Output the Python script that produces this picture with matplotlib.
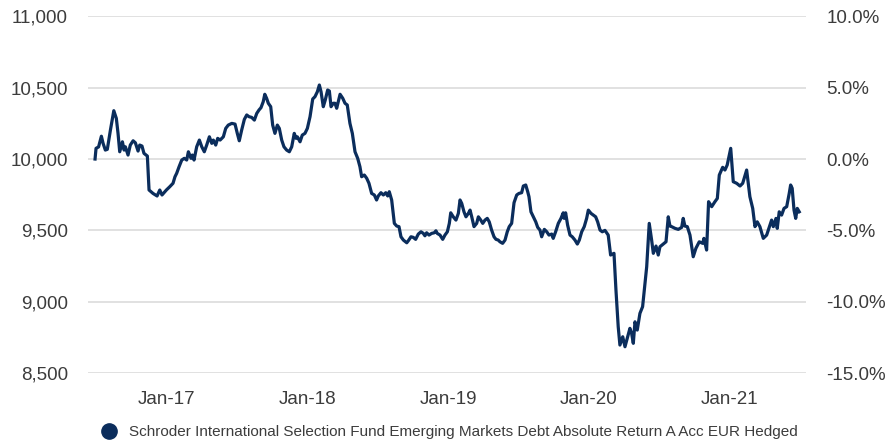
import matplotlib
matplotlib.use("Agg")
import matplotlib.pyplot as plt
from matplotlib.lines import Line2D
from matplotlib.ticker import FuncFormatter

# Decimal-year dates and fund values (growth of 10,000)
years = [
    2016.496, 2016.503, 2016.521, 2016.541, 2016.553, 2016.569, 2016.583, 2016.605, 2016.629, 2016.647,
    2016.659, 2016.671, 2016.690, 2016.702, 2016.711, 2016.730, 2016.746, 2016.766, 2016.782, 2016.801,
    2016.813, 2016.829, 2016.843, 2016.867, 2016.879, 2016.907, 2016.936, 2016.955, 2016.971, 2017.002,
    2017.026, 2017.049, 2017.063, 2017.075, 2017.092, 2017.111, 2017.129, 2017.146, 2017.158, 2017.177,
    2017.186, 2017.198, 2017.217, 2017.236, 2017.253, 2017.271, 2017.288, 2017.307, 2017.324, 2017.335,
    2017.352, 2017.366, 2017.383, 2017.406, 2017.423, 2017.441, 2017.466, 2017.489, 2017.505, 2017.519,
    2017.536, 2017.555, 2017.572, 2017.588, 2017.607, 2017.626, 2017.643, 2017.659, 2017.673, 2017.689,
    2017.700, 2017.713, 2017.725, 2017.742, 2017.756, 2017.772, 2017.789, 2017.803, 2017.820, 2017.836,
    2017.855, 2017.874, 2017.891, 2017.909, 2017.922, 2017.931, 2017.950, 2017.966, 2017.985, 2018.002,
    2018.021, 2018.040, 2018.056, 2018.073, 2018.087, 2018.099, 2018.115, 2018.129, 2018.146, 2018.158,
    2018.170, 2018.186, 2018.198, 2018.210, 2018.234, 2018.253, 2018.269, 2018.285, 2018.304, 2018.321,
    2018.340, 2018.359, 2018.375, 2018.387, 2018.406, 2018.423, 2018.439, 2018.458, 2018.477, 2018.493,
    2018.505, 2018.524, 2018.541, 2018.558, 2018.572, 2018.583, 2018.600, 2018.619, 2018.636, 2018.652,
    2018.666, 2018.683, 2018.707, 2018.718, 2018.737, 2018.753, 2018.770, 2018.789, 2018.808, 2018.824,
    2018.836, 2018.848, 2018.865, 2018.884, 2018.902, 2018.914, 2018.923, 2018.943, 2018.962, 2018.978,
    2018.995, 2019.009, 2019.019, 2019.037, 2019.056, 2019.073, 2019.085, 2019.097, 2019.113, 2019.127,
    2019.144, 2019.156, 2019.168, 2019.184, 2019.203, 2019.215, 2019.232, 2019.246, 2019.262, 2019.278,
    2019.292, 2019.309, 2019.326, 2019.340, 2019.356, 2019.368, 2019.387, 2019.404, 2019.420, 2019.434,
    2019.451, 2019.468, 2019.487, 2019.503, 2019.522, 2019.534, 2019.551, 2019.565, 2019.574, 2019.588,
    2019.605, 2019.622, 2019.636, 2019.652, 2019.664, 2019.683, 2019.700, 2019.716, 2019.735, 2019.746,
    2019.763, 2019.782, 2019.801, 2019.817, 2019.824, 2019.834, 2019.848, 2019.865, 2019.881, 2019.900,
    2019.917, 2019.931, 2019.948, 2019.966, 2019.983, 2019.995, 2020.014, 2020.030, 2020.047, 2020.061,
    2020.078, 2020.094, 2020.113, 2020.136, 2020.153, 2020.177, 2020.191, 2020.207, 2020.219, 2020.239,
    2020.255, 2020.271, 2020.290, 2020.302, 2020.314, 2020.326, 2020.342, 2020.361, 2020.380, 2020.397,
    2020.409, 2020.427, 2020.444, 2020.456, 2020.475, 2020.491, 2020.503, 2020.527, 2020.546, 2020.562,
    2020.574, 2020.586, 2020.610, 2020.633, 2020.657, 2020.668, 2020.680, 2020.697, 2020.716, 2020.739,
    2020.758, 2020.782, 2020.806, 2020.815, 2020.834, 2020.848, 2020.870, 2020.893, 2020.910, 2020.924,
    2020.948, 2020.964, 2020.980, 2021.005, 2021.023, 2021.047, 2021.071, 2021.090, 2021.118, 2021.141,
    2021.161, 2021.177, 2021.193, 2021.212, 2021.236, 2021.260, 2021.283, 2021.295, 2021.307, 2021.326,
    2021.335, 2021.349, 2021.366, 2021.383, 2021.402, 2021.420, 2021.430, 2021.441, 2021.454, 2021.466,
    2021.477, 2021.491,
]

values = [
    10000, 10075, 10085, 10160, 10110, 10063, 10068, 10203, 10339, 10285,
    10180, 10051, 10121, 10063, 10086, 10028, 10098, 10128, 10114, 10056,
    10098, 10091, 10040, 10021, 9783, 9759, 9741, 9783, 9748, 9783,
    9806, 9830, 9876, 9900, 9946, 9993, 10005, 9993, 10051, 10005,
    10028, 9993, 10086, 10133, 10086, 10051, 10098, 10156, 10110, 10133,
    10098, 10145, 10133, 10156, 10215, 10238, 10250, 10245, 10180, 10128,
    10203, 10278, 10309, 10297, 10292, 10273, 10320, 10344, 10360, 10402,
    10454, 10426, 10391, 10367, 10238, 10180, 10238, 10215, 10133, 10086,
    10063, 10051, 10086, 10180, 10145, 10156, 10121, 10168, 10180, 10215,
    10297, 10421, 10437, 10472, 10519, 10472, 10367, 10414, 10484, 10477,
    10367, 10391, 10391, 10356, 10454, 10426, 10391, 10379, 10250, 10180,
    10051, 10005, 9946, 9876, 9888, 9865, 9830, 9759, 9748, 9713,
    9741, 9764, 9748, 9764, 9741, 9771, 9713, 9549, 9530, 9526,
    9455, 9432, 9413, 9427, 9455, 9451, 9437, 9474, 9490, 9479,
    9462, 9483, 9467, 9479, 9483, 9497, 9479, 9467, 9437, 9467,
    9490, 9549, 9623, 9595, 9572, 9619, 9713, 9689, 9630, 9595,
    9619, 9642, 9595, 9526, 9549, 9595, 9572, 9549, 9572, 9584,
    9560, 9502, 9455, 9437, 9432, 9420, 9409, 9432, 9490, 9526,
    9549, 9694, 9748, 9759, 9764, 9811, 9818, 9771, 9736, 9630,
    9595, 9560, 9521, 9502, 9455, 9507, 9490, 9467, 9474, 9444,
    9490, 9549, 9584, 9623, 9584, 9623, 9537, 9467, 9455, 9432,
    9404, 9432, 9490, 9526, 9584, 9642, 9619, 9607, 9595, 9560,
    9502, 9490, 9500, 9467, 9327, 9339, 9081, 8824, 8696, 8754,
    8684, 8743, 8813, 8778, 8708, 8859, 8801, 8918, 8965, 9128,
    9245, 9549, 9432, 9339, 9390, 9327, 9385, 9404, 9420, 9595,
    9530, 9526, 9514, 9507, 9521, 9584, 9530, 9526, 9467, 9315,
    9374, 9420, 9409, 9444, 9362, 9701, 9666, 9701, 9724, 9888,
    9942, 9923, 9958, 10075, 9841, 9830, 9811, 9830, 9923, 9736,
    9654, 9526, 9560, 9526, 9444, 9467, 9537, 9572, 9526, 9584,
    9514, 9630, 9607, 9654, 9666, 9759, 9818, 9795, 9642, 9584,
    9654, 9630,
]

series_name = "Schroder International Selection Fund Emerging Markets Debt Absolute Return A Acc EUR Hedged"
tick_years = [2017, 2018, 2019, 2020, 2021]
tick_labels = ["Jan-17", "Jan-18", "Jan-19", "Jan-20", "Jan-21"]
left_ticks = [8500, 9000, 9500, 10000, 10500, 11000]
right_ticks = [-15, -10, -5, 0, 5, 10]

LINE = "#0b2d5c"
TXT = "#3c3c3c"
GRID = "#e1e1e1"

plt.rcParams["font.family"] = ["Liberation Sans", "DejaVu Sans"]

fig = plt.figure(figsize=(8.91, 4.45), dpi=100)
ax = fig.add_axes([88 / 891, 1 - 373 / 445, (806 - 88) / 891, (373 - 16.4) / 445])

ax.plot(years, values, color=LINE, lw=2.3, solid_joinstyle="round", zorder=3)

ax.set_xlim(2016.446, 2021.539)
ax.set_ylim(8500, 11000)
ax.set_yticks(left_ticks)
ax.yaxis.set_major_formatter(FuncFormatter(lambda v, p: f"{v:,.0f}"))
ax.set_xticks(tick_years)
ax.set_xticklabels(tick_labels)
ax.grid(axis="y", color=GRID, lw=1.4, zorder=0)
ax.set_axisbelow(True)
for s in ax.spines.values():
    s.set_visible(False)
ax.tick_params(axis="both", length=0, labelsize=13.5, labelcolor=TXT)
ax.tick_params(axis="y", pad=14.5)
ax.tick_params(axis="x", pad=13)

ax2 = ax.twinx()
ax2.set_ylim(-15, 10)
ax2.set_yticks(right_ticks)
ax2.yaxis.set_major_formatter(FuncFormatter(lambda v, p: f"{v:.1f}%"))
for s in ax2.spines.values():
    s.set_visible(False)
ax2.tick_params(axis="y", length=0, labelsize=13.5, labelcolor=TXT, pad=14.5)

handle = Line2D([], [], color=LINE, marker="o", linestyle="none", markersize=11)
fig.legend([handle], [series_name], loc="center", bbox_to_anchor=(446 / 891, 1 - 432 / 445),
           frameon=False, fontsize=11, labelcolor=TXT, handletextpad=0.3, borderaxespad=0)

fig.savefig("out.png", dpi=100)
